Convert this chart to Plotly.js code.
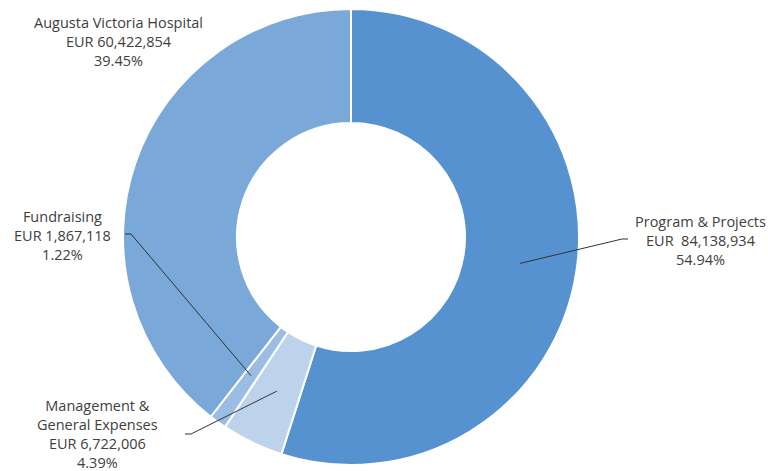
<!DOCTYPE html>
<html>
<head>
<meta charset="utf-8">
<script src="https://cdn.plot.ly/plotly-3.0.1.min.js"></script>
<style>html,body{margin:0;padding:0;background:#fff;}#chart{width:768px;height:471px;}</style>
</head>
<body>
<div id="chart"></div>
<script>
const categories = ["Program & Projects", "Management &<br>General Expenses", "Fundraising", "Augusta Victoria Hospital"];
const amounts = [84138934, 6722006, 1867118, 60422854];
const amountLabels = ["EUR  84,138,934", "EUR 6,722,006", "EUR 1,867,118", "EUR 60,422,854"];
const percentLabels = ["54.94%", "4.39%", "1.22%", "39.45%"];
const colors = ["#5592CF", "#BDD3EC", "#9BBDE3", "#7AA8D8"];

const W = 768, H = 471;
const cx = 351, cy = 237, R = 228, hole = 0.5;
const domX = [(cx - R) / W, (cx + R) / W];
const domY = [(H - cy - R) / H, (H - cy + R) / H];

// label positions (pixels) and elbow points for leader lines
const labelPos = [
  {x: 700, y: 240, elbow: [[622, 239], [628, 239]]},
  {x: 97, y: 434, elbow: [[191, 434], [185, 434]]},
  {x: 62, y: 235, elbow: [[131, 234], [125, 234]]},
  {x: 118, y: 42, elbow: null}
];

const total = amounts.reduce((a, b) => a + b, 0);
let cum = 0;
const shapes = [];
const annotations = [];
const px = x => x / W, py = y => 1 - y / H;
amounts.forEach((v, i) => {
  const mid = (cum + v / 2) / total;
  cum += v;
  const ang = mid * 2 * Math.PI;
  const rm = R * (1 + hole) / 2;
  const sx = cx + rm * Math.sin(ang), sy = cy - rm * Math.cos(ang);
  const lp = labelPos[i];
  if (lp.elbow) {
    const e = lp.elbow;
    shapes.push({
      type: 'path', xref: 'paper', yref: 'paper',
      path: `M ${px(sx)} ${py(sy)} L ${px(e[0][0])} ${py(e[0][1])} L ${px(e[1][0])} ${py(e[1][1])}`,
      line: {color: '#333333', width: 1}
    });
  }
  annotations.push({
    xref: 'paper', yref: 'paper', x: px(lp.x), y: py(lp.y),
    xanchor: 'center', yanchor: 'middle', align: 'center', showarrow: false,
    text: categories[i] + '<br>' + amountLabels[i] + '<br>' + percentLabels[i],
    font: {family: '"Open Sans", Lato, sans-serif', size: 14.5, color: '#404040'}
  });
});

const data = [{
  type: 'pie',
  values: amounts,
  labels: categories,
  hole: hole,
  sort: false,
  direction: 'clockwise',
  rotation: 0,
  textinfo: 'none',
  hoverinfo: 'label+value+percent',
  marker: {colors: colors, line: {color: '#ffffff', width: 2}},
  domain: {x: domX, y: domY},
  showlegend: false
}];

const layout = {
  width: W, height: H,
  margin: {l: 0, r: 0, t: 0, b: 0},
  paper_bgcolor: '#ffffff',
  showlegend: false,
  shapes: shapes,
  annotations: annotations
};

Plotly.newPlot('chart', data, layout, {displayModeBar: false, staticPlot: true});
</script>
</body>
</html>
